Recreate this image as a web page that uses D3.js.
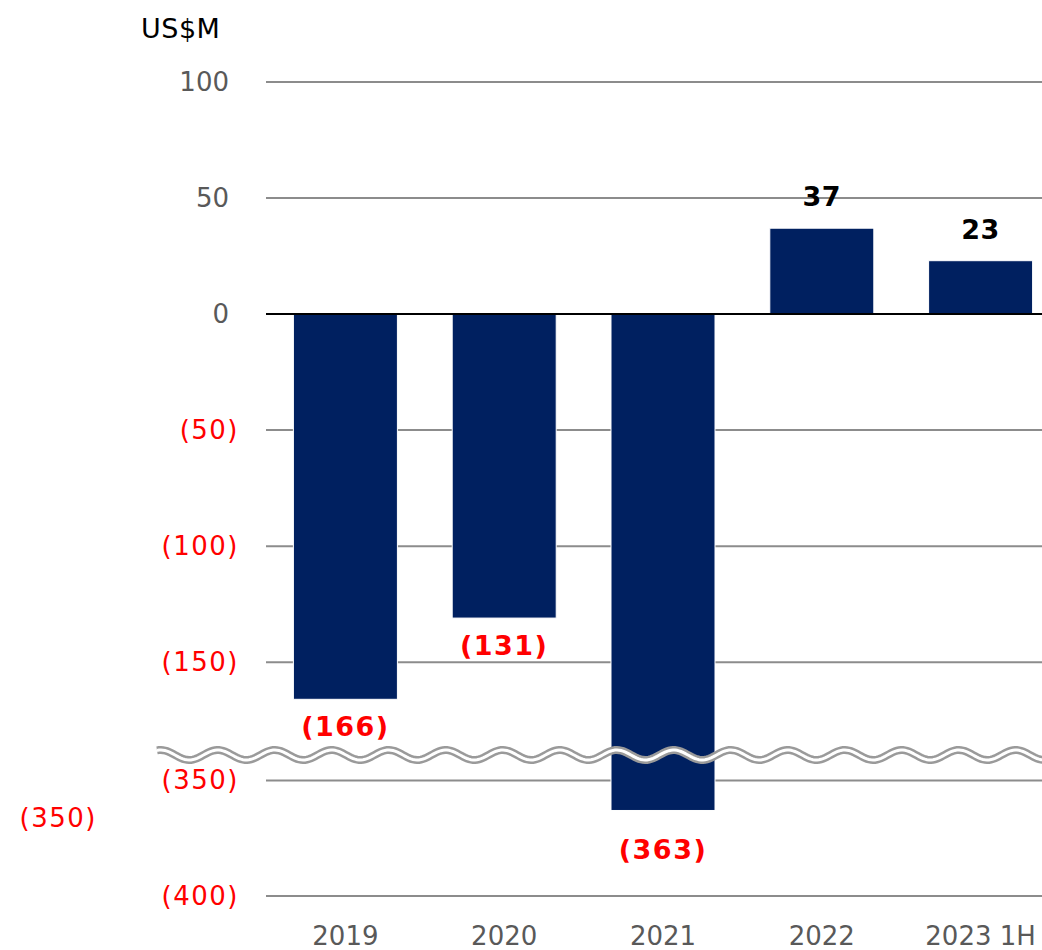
<!DOCTYPE html>
<meta charset="utf-8">
<style>
body { margin: 0; background: #fff; }
svg text { font-family: "DejaVu Sans", Verdana, sans-serif; }
.grid { stroke: #8c8c8c; stroke-width: 2; }
.bar { fill: #002060; stroke: #fff; stroke-width: 1; }
</style>
<body></body>
<script src="https://d3js.org/d3.v7.min.js"></script>
<script>
// data
var years = ["2019", "2020", "2021", "2022", "2023 1H"];
var values = [-166, -131, -363, 37, 23];
var tickValues = [100, 50, 0, -50, -100, -150, -350, -400];
var strayTick = -350; // leftover label off to the left

function fmt(v) { return v < 0 ? "(" + Math.abs(v) + ")" : String(v); }

var width = 1042, height = 950;

var svg = d3.select("body").append("svg")
    .attr("width", width)
    .attr("height", height);

// band scale runs past the right edge like the original
var x = d3.scaleBand()
    .domain(years)
    .range([266, 1060])
    .paddingInner(0.345)
    .paddingOuter(0.1725);

// broken axis: upper part 100..-190, lower part -339..-400
var y = d3.scaleLinear()
    .domain([100, -190, -339, -400])
    .range([82, 755, 755, 896]);

// gridlines
svg.selectAll(".grid")
    .data(tickValues.filter(function(d) { return d !== 0; }))
    .enter().append("line")
    .attr("class", "grid")
    .attr("x1", 266).attr("x2", width)
    .attr("y1", function(d) { return y(d); })
    .attr("y2", function(d) { return y(d); });

// tick labels
svg.selectAll(".tick-label")
    .data(tickValues)
    .enter().append("text")
    .attr("class", "tick-label")
    .attr("x", function(d) { return d < 0 ? 239 : 229; })
    .attr("y", function(d) { return y(d) + 9; })
    .attr("text-anchor", "end")
    .style("font-size", "26px")
    .style("letter-spacing", function(d) { return d < 0 ? "1.5px" : null; })
    .style("fill", function(d) { return d < 0 ? "#ff0000" : "#595959"; })
    .text(fmt);

svg.append("text")
    .attr("x", 97).attr("y", y(strayTick) + 47)
    .attr("text-anchor", "end")
    .style("font-size", "26px")
    .style("letter-spacing", "1.5px")
    .style("fill", "#ff0000")
    .text(fmt(strayTick));

// unit
svg.append("text")
    .attr("x", 141).attr("y", 38)
    .style("font-size", "27px")
    .style("letter-spacing", "0.5px")
    .style("fill", "#000")
    .text("US$M");

// bars
svg.selectAll(".bar")
    .data(values)
    .enter().append("rect")
    .attr("class", "bar")
    .attr("x", function(d, i) { return x(years[i]); })
    .attr("width", x.bandwidth())
    .attr("y", function(d) { return y(Math.max(0, d)); })
    .attr("height", function(d) { return Math.abs(y(d) - y(0)); });

// zero line
svg.append("line")
    .attr("x1", 266).attr("x2", width)
    .attr("y1", y(0)).attr("y2", y(0))
    .attr("stroke", "#000").attr("stroke-width", 2);

// break wave
var wave = d3.range(157, width + 4, 2).map(function(px) {
    return [px, 755 + 5 * Math.sin((px - 175) / 57 * 2 * Math.PI)];
});
var waveLine = d3.line();
svg.append("path")
    .attr("d", waveLine(wave))
    .attr("fill", "none").attr("stroke", "#9a9a9a").attr("stroke-width", 8);
svg.append("path")
    .attr("d", waveLine(wave))
    .attr("fill", "none").attr("stroke", "#fff").attr("stroke-width", 3);

// value labels
svg.selectAll(".val")
    .data(values)
    .enter().append("text")
    .attr("class", "val")
    .attr("x", function(d, i) { return x(years[i]) + x.bandwidth() / 2; })
    .attr("y", function(d) {
        if (d >= 0) return y(d) - 22;
        return y(d) + (d < -300 ? 49 : 37); // the broken bar's label sits lower
    })
    .attr("text-anchor", "middle")
    .style("font-size", "27px")
    .style("font-weight", "bold")
    .style("letter-spacing", function(d) { return d < 0 ? "1.5px" : "0.5px"; })
    .style("fill", function(d) { return d < 0 ? "#ff0000" : "#000"; })
    .text(fmt);

// category labels
svg.selectAll(".cat")
    .data(years)
    .enter().append("text")
    .attr("class", "cat")
    .attr("x", function(d) { return x(d) + x.bandwidth() / 2; })
    .attr("y", 945)
    .attr("text-anchor", "middle")
    .style("font-size", "26px")
    .style("fill", "#595959")
    .text(function(d) { return d; });
</script>
